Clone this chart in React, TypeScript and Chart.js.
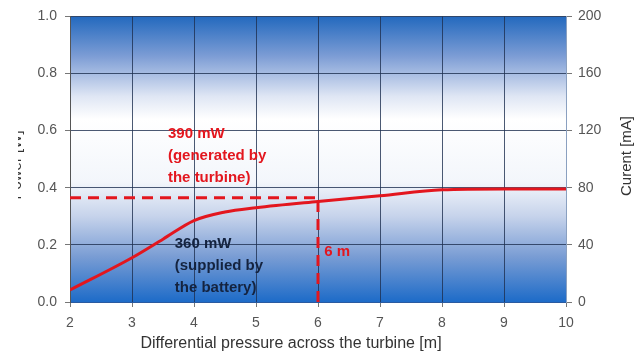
import React, { useEffect, useRef } from "react";
import { Chart, registerables } from "chart.js";

Chart.register(...registerables);

const pressure = [2, 3, 3.5, 4, 4.5, 5, 6, 7, 8, 9, 10];
const power = [0.042, 0.155, 0.22, 0.285, 0.315, 0.33, 0.352, 0.372, 0.393, 0.396, 0.396];
const refX = [2, 6];
const refPower = 0.365;
const opX = 6;
const xTicks = { min: 2, max: 10, step: 1 };
const leftTicks = { min: 0, max: 1, step: 0.2 };
const rightTicks = { min: 0, max: 200, step: 40 };
const xTitle = "Differential pressure across the turbine [m]";
const leftTitle = "Power [W]";
const rightTitle = "Curent [mA]";
const genLabel = ["390 mW", "(generated by", "the turbine)"];
const supLabel = ["360 mW", "(supplied by", "the battery)"];
const opLabel = "6 m";

const RED = "#e3161e";
const FONT = "'Liberation Sans', Arial, sans-serif";

const bgPlugin = {
  id: "bgGrad",
  beforeDraw(chart: any) {
    const { ctx, chartArea: a } = chart;
    const g = ctx.createLinearGradient(0, a.top, 0, a.bottom);
    g.addColorStop(0, "#2369be");
    g.addColorStop(0.14, "#7d9dd5");
    g.addColorStop(0.28, "#dfe6f4");
    g.addColorStop(0.36, "#ffffff");
    g.addColorStop(0.58, "#f3f6fb");
    g.addColorStop(0.7, "#c6d3eb");
    g.addColorStop(0.84, "#7a9dd4");
    g.addColorStop(1, "#1d6bc8");
    ctx.save();
    ctx.fillStyle = g;
    ctx.fillRect(a.left, a.top, a.right - a.left, a.bottom - a.top);
    ctx.restore();
  },
};

const textPlugin = {
  id: "texts",
  afterDraw(chart: any) {
    const { ctx, scales } = chart;
    const xs = scales.x;
    const ys = scales.y;
    ctx.save();
    ctx.textBaseline = "middle";
    ctx.textAlign = "left";
    ctx.font = `bold 15px ${FONT}`;
    ctx.fillStyle = RED;
    let x0 = xs.getPixelForValue(3.58);
    let y0 = ys.getPixelForValue(0.587);
    genLabel.forEach((t, i) => ctx.fillText(t, x0, y0 + i * 22));
    ctx.fillStyle = "#14233f";
    x0 = xs.getPixelForValue(3.69);
    y0 = ys.getPixelForValue(0.205);
    supLabel.forEach((t, i) => ctx.fillText(t, x0, y0 + i * 22));
    ctx.fillStyle = RED;
    ctx.fillText(opLabel, xs.getPixelForValue(6.1), ys.getPixelForValue(0.174));

    ctx.fillStyle = "#333";
    ctx.font = `16px ${FONT}`;
    ctx.textAlign = "center";
    ctx.fillText(xTitle, 291, 344);

    ctx.save();
    ctx.translate(627, 156);
    ctx.rotate(-Math.PI / 2);
    ctx.font = `15px ${FONT}`;
    ctx.fillText(rightTitle, 0, 0);
    ctx.restore();

    ctx.save();
    ctx.beginPath();
    ctx.rect(18, 0, 30, 360);
    ctx.clip();
    ctx.translate(17, 165);
    ctx.rotate(-Math.PI / 2);
    ctx.font = `15px ${FONT}`;
    ctx.fillText(leftTitle, 0, 0);
    ctx.restore();
    ctx.restore();
  },
};

export default function App() {
  const ref = useRef<HTMLCanvasElement | null>(null);
  useEffect(() => {
    if (!ref.current) return;
    const gridColor = "rgba(30,48,80,0.8)";
    const tickFont = { family: FONT, size: 14 };
    const chart = new Chart(ref.current, {
      type: "line",
      data: {
        datasets: [
          {
            data: pressure.map((x, i) => ({ x, y: power[i] })),
            borderColor: RED,
            borderWidth: 3,
            pointRadius: 0,
            cubicInterpolationMode: "monotone",
            yAxisID: "y",
          },
          {
            data: refX.map((x) => ({ x, y: refPower })),
            borderColor: RED,
            borderWidth: 3,
            borderDash: [11, 7],
            pointRadius: 0,
            yAxisID: "y",
          },
          {
            data: [
              { x: opX, y: 0 },
              { x: opX, y: refPower },
            ],
            borderColor: RED,
            borderWidth: 3,
            borderDash: [11, 7],
            pointRadius: 0,
            yAxisID: "y",
          },
        ],
      },
      options: {
        responsive: false,
        animation: false,
        layout: { padding: { top: 13, left: 0, right: 0, bottom: 0 } },
        plugins: { legend: { display: false }, tooltip: { enabled: false } },
        scales: {
          x: {
            type: "linear",
            min: xTicks.min,
            max: xTicks.max,
            ticks: { stepSize: xTicks.step, color: "#555", font: tickFont, padding: 8 },
            grid: { color: gridColor, tickLength: 5, tickColor: "#777" },
            border: { color: "#2a5aa0" },
            afterFit: (s: any) => {
              s.height = 58;
            },
          },
          y: {
            position: "left",
            min: leftTicks.min,
            max: leftTicks.max,
            ticks: {
              stepSize: leftTicks.step,
              color: "#555",
              font: tickFont,
              padding: 8,
              callback: (v: any) => Number(v).toFixed(1),
            },
            grid: { color: gridColor, tickLength: 5, tickColor: "#777" },
            border: { color: "#555" },
            afterFit: (s: any) => {
              s.width = 70;
            },
          },
          y2: {
            position: "right",
            min: rightTicks.min,
            max: rightTicks.max,
            ticks: { stepSize: rightTicks.step, color: "#555", font: tickFont, padding: 6 },
            grid: { drawOnChartArea: false, tickLength: 6, tickColor: "#777" },
            border: { color: "#8aa0c0" },
            afterFit: (s: any) => {
              s.width = 74;
            },
          },
        },
      },
      plugins: [bgPlugin, textPlugin],
    } as any);
    return () => chart.destroy();
  }, []);
  return (
    <div style={{ position: "fixed", left: 0, top: 0, width: 640, height: 360, background: "#fff" }}>
      <canvas ref={ref} width={640} height={360} />
    </div>
  );
}
